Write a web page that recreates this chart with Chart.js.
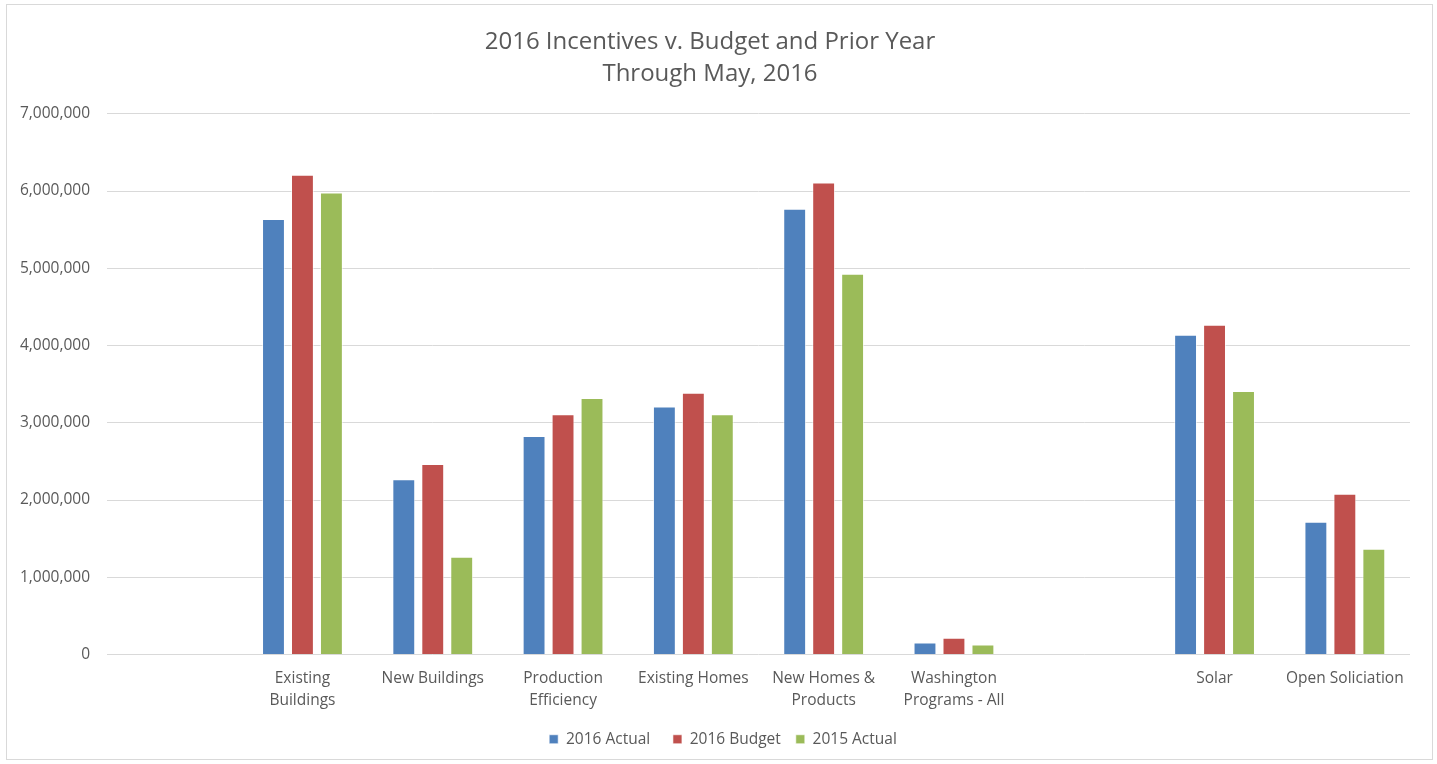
<!DOCTYPE html>
<html>
<head>
<meta charset="utf-8">
<script src="https://cdn.jsdelivr.net/npm/chart.js@4.4.0/dist/chart.umd.min.js"></script>
<style>
  html, body { margin: 0; padding: 0; background: #ffffff; }
  #wrap { position: absolute; left: 6px; top: 4px; width: 1427px; height: 756px; border: 1px solid #d9d9d9; box-sizing: border-box; }
  #c { position: absolute; left: 0; top: 0; }
</style>
</head>
<body>
<div id="wrap"></div>
<canvas id="c" width="1437" height="764"></canvas>
<script>
const categories = [
  "",
  ["Existing", "Buildings"],
  "New Buildings",
  ["Production", "Efficiency"],
  "Existing Homes",
  ["New Homes &", "Products"],
  ["Washington", "Programs - All"],
  "",
  "Solar",
  "Open Soliciation"
];
const seriesNames = ["2016 Actual", "2016 Budget", "2015 Actual"];
const actual2016 = [null, 5640000, 2270000, 2830000, 3210000, 5770000, 155000, null, 4140000, 1720000];
const budget2016 = [null, 6210000, 2465000, 3110000, 3390000, 6110000, 215000, null, 4270000, 2080000];
const actual2015 = [null, 5980000, 1266000, 3320000, 3110000, 4930000, 130000, null, 3410000, 1370000];
const titleLines = ["2016 Incentives v. Budget and Prior Year", "Through May, 2016"];
const yTicks = { min: 0, max: 7000000, step: 1000000 };

const colors = ["#4F81BD", "#C0504D", "#9BBB59"];
const fontFam = "'Open Sans', 'Liberation Sans', sans-serif";
const textColor = "#595959";

const legendShift = {
  id: "legendShift",
  afterLayout(chart) {
    const lg = chart.legend;
    if (lg) { lg.left += 13; lg.right += 13; }
  }
};

new Chart(document.getElementById("c"), {
  type: "bar",
  data: {
    labels: categories,
    datasets: [actual2016, budget2016, actual2015].map((d, i) => ({
      label: seriesNames[i],
      data: d,
      backgroundColor: colors[i],
      borderColor: "rgba(255,255,255,0.6)",
      borderWidth: 1,
      categoryPercentage: 0.667,
      barPercentage: 0.79
    }))
  },
  plugins: [legendShift],
  options: {
    responsive: false,
    animation: false,
    layout: { padding: { left: 10, right: 27, top: 0, bottom: 7 } },
    plugins: {
      title: {
        display: true,
        text: titleLines,
        color: textColor,
        font: { family: fontFam, size: 24, weight: "normal", lineHeight: 1.33 },
        padding: { top: 26, bottom: 24 }
      },
      legend: {
        position: "bottom",
        labels: {
          color: textColor,
          font: { family: fontFam, size: 15.5 },
          boxWidth: 9,
          boxHeight: 9,
          padding: 15,
          generateLabels: (chart) => {
            const items = Chart.defaults.plugins.legend.labels.generateLabels(chart);
            if (items.length) { items[0].text = items[0].text + "\u2002"; }
            return items;
          }
        }
      },
      tooltip: { enabled: false }
    },
    scales: {
      x: {
        grid: { display: false },
        border: { display: false },
        ticks: {
          color: textColor,
          font: { family: fontFam, size: 15.5, lineHeight: 1.42 },
          maxRotation: 0,
          autoSkip: false,
          padding: 5
        }
      },
      y: {
        min: yTicks.min,
        max: yTicks.max,
        afterFit: (s) => { s.width = 97; },
        grid: { color: "#d9d9d9", lineWidth: 1, drawTicks: false },
        border: { display: false },
        ticks: {
          stepSize: yTicks.step,
          color: textColor,
          font: { family: fontFam, size: 15.5 },
          padding: 17,
          callback: (v) => Number(v).toLocaleString("en-US")
        }
      }
    }
  }
});
</script>
</body>
</html>
